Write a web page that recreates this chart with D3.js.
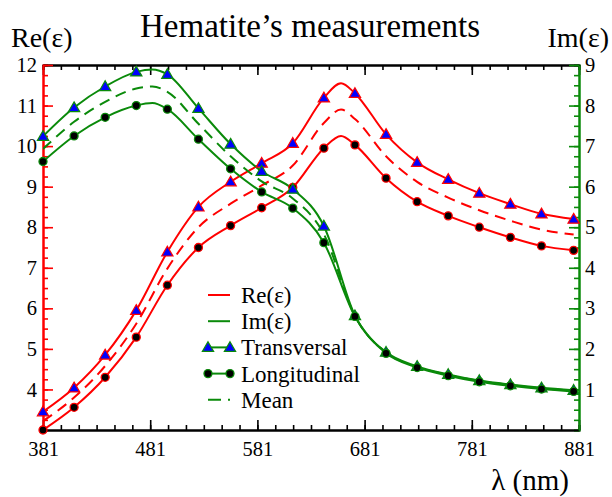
<!DOCTYPE html>
<html><head><meta charset="utf-8">
<script src="https://cdn.jsdelivr.net/npm/d3@7"></script>
<style>
body{margin:0;background:#fff;}
svg{display:block;}
text{font-family:"Liberation Serif","DejaVu Serif","Times New Roman",Times,serif;}
</style></head><body>
<svg id="c" width="612" height="497"></svg>
<script>
// ---- data ----
const markerWl = [381,410,439,468,497,526,556,585,614,643,672,701,730,759,788,817,846,876];
const reT    = [3.45,4.04,4.85,5.95,7.39,8.50,9.12,9.58,10.07,11.19,11.30,10.29,9.60,9.18,8.84,8.57,8.33,8.20];
const reL    = [3.00,3.56,4.30,5.29,6.57,7.50,8.04,8.48,8.98,9.95,10.03,9.21,8.63,8.28,8.00,7.75,7.54,7.43];
const reMean = [3.22,3.80,4.58,5.62,6.98,8.00,8.58,9.03,9.52,10.57,10.67,9.75,9.12,8.73,8.42,8.16,7.94,7.82];
const imT    = [7.24,7.95,8.47,8.83,8.77,7.93,7.05,6.38,5.94,5.03,2.82,1.92,1.57,1.37,1.22,1.12,1.04,0.98];
const imL    = [6.62,7.25,7.71,8.00,7.91,7.17,6.44,5.87,5.47,4.62,2.80,1.89,1.54,1.34,1.19,1.09,1.01,0.95];
const imMean = [6.93,7.60,8.09,8.42,8.34,7.55,6.75,6.13,5.71,4.83,2.81,1.91,1.56,1.36,1.21,1.11,1.03,0.97];
// peak samples between markers
const rePeakWl = 659, rePeak = {T:11.55, L:10.25, M:10.90};
const imPeakWl = 483, imPeak = {T:8.89, L:8.06, M:8.47};
// ticks
const xTicks = [381,481,581,681,781,881];
const reTicks = [4,5,6,7,8,9,10,11,12];
const imTicks = [1,2,3,4,5,6,7,8,9];
const legendLabels = ["Re(\u03b5)","Im(\u03b5)","Transversal","Longitudinal","Mean"];

// ---- layout ----
const FONT = "'Liberation Serif','DejaVu Serif','Times New Roman',Times,serif";
const RED = "#ff0000", GREEN = "#0a8a0a", BLUE = "#0000ff";
const L = 43, R = 579, T = 65, B = 430;
const svg = d3.select("#c");
const x = d3.scaleLinear().domain([381,881]).range([L,R]);
const yRe = d3.scaleLinear().domain([3,12]).range([B,T]);
const yIm = d3.scaleLinear().domain([0,9]).range([B,T]);

svg.append("defs").append("clipPath").attr("id","clip")
  .append("rect").attr("x",L).attr("y",T).attr("width",R-L).attr("height",B-T);

function series(vals, peakWl, peakVal){
  const pts = markerWl.map((w,i)=>[w, vals[i]]);
  pts.push([peakWl, peakVal]);
  pts.sort((a,b)=>a[0]-b[0]);
  return pts;
}

// ---- axes ----
function styleAxis(g, color){
  g.attr("font-family", FONT);
  g.select(".domain").attr("stroke", color).attr("stroke-width", 2);
  g.selectAll(".tick line").attr("stroke", color).attr("stroke-width", 1.6);
  g.selectAll("text").attr("fill","#000").attr("font-size",20.5).style("font-family", FONT);
}
const xMinor = d3.range(0,31).map(i=>381+i*100/6);
const reMinor = d3.range(3,12.001,0.25);
const imMinor = d3.range(0,9.001,0.25);

svg.append("g").attr("transform",`translate(0,${B})`)
  .call(d3.axisBottom(x).tickValues(xMinor).tickSize(-5).tickFormat(""))
  .call(g=>styleAxis(g,"#000"));
svg.append("g").attr("transform",`translate(0,${T})`)
  .call(d3.axisTop(x).tickValues(xMinor).tickSize(-5).tickFormat(""))
  .call(g=>styleAxis(g,"#000"));
svg.append("g").attr("transform",`translate(${L},0)`)
  .call(d3.axisLeft(yRe).tickValues(reMinor).tickSize(-5).tickFormat(""))
  .call(g=>styleAxis(g,RED));
svg.append("g").attr("transform",`translate(${R},0)`)
  .call(d3.axisRight(yIm).tickValues(imMinor).tickSize(-5).tickFormat(""))
  .call(g=>styleAxis(g,GREEN));
svg.append("g").attr("transform",`translate(0,${B})`)
  .call(d3.axisBottom(x).tickValues(xTicks).tickSizeInner(-10).tickSizeOuter(0).tickPadding(11).tickFormat(d3.format("d")))
  .call(g=>styleAxis(g,"#000"));
svg.append("g").attr("transform",`translate(0,${T})`)
  .call(d3.axisTop(x).tickValues(xTicks).tickSizeInner(-10).tickSizeOuter(0).tickFormat(""))
  .call(g=>styleAxis(g,"#000"));
svg.append("g").attr("transform",`translate(${L},0)`)
  .call(d3.axisLeft(yRe).tickValues(reTicks).tickSizeInner(-10).tickSizeOuter(0).tickPadding(6).tickFormat(d3.format("d")))
  .call(g=>styleAxis(g,RED));
svg.append("g").attr("transform",`translate(${R},0)`)
  .call(d3.axisRight(yIm).tickValues(imTicks).tickSizeInner(-10).tickSizeOuter(0).tickPadding(6).tickFormat(d3.format("d")))
  .call(g=>styleAxis(g,GREEN));

// ---- curves ----
const plot = svg.append("g").attr("clip-path","url(#clip)");
function drawLine(pts, yScale, color, dashed){
  const line = d3.line().x(d=>x(d[0])).y(d=>yScale(d[1])).curve(d3.curveMonotoneX);
  plot.append("path").datum(pts).attr("d",line).attr("fill","none")
    .attr("stroke",color).attr("stroke-width",2)
    .attr("stroke-dasharray", dashed ? "11,7" : null);
}
const tri = d3.symbol().type(d3.symbolTriangle).size(55);
function drawMarkers(vals, yScale, color, kind){
  const g = svg.append("g");
  markerWl.forEach((w,i)=>{
    const cx = x(w), cy = yScale(vals[i]);
    if (cy > B + 2 || cy < T - 2) return;
    if (kind === "T"){
      g.append("path").attr("d",tri).attr("transform",`translate(${cx},${cy+0.8})`)
        .attr("fill",BLUE).attr("stroke",color).attr("stroke-width",1.2);
    } else {
      g.append("circle").attr("cx",cx).attr("cy",cy).attr("r",4)
        .attr("fill","#000").attr("stroke",color).attr("stroke-width",1.3);
    }
  });
}
drawLine(series(reMean, rePeakWl, rePeak.M), yRe, RED, true);
drawLine(series(reT, rePeakWl, rePeak.T), yRe, RED, false);
drawLine(series(reL, rePeakWl, rePeak.L), yRe, RED, false);
drawLine(series(imMean, imPeakWl, imPeak.M), yIm, GREEN, true);
drawLine(series(imT, imPeakWl, imPeak.T), yIm, GREEN, false);
drawLine(series(imL, imPeakWl, imPeak.L), yIm, GREEN, false);
drawMarkers(reT, yRe, RED, "T");
drawMarkers(reL, yRe, RED, "L");
drawMarkers(imT, yIm, GREEN, "T");
drawMarkers(imL, yIm, GREEN, "L");

// ---- legend ----
const lg = svg.append("g");
const lx0 = 208, lx1 = 230, ly0 = 295, ldy = 26.2;
legendLabels.forEach((lab,i)=>{
  const yy = ly0 + i*ldy;
  const color = i===0 ? RED : GREEN;
  lg.append("line").attr("x1",lx0).attr("x2",lx1).attr("y1",yy).attr("y2",yy)
    .attr("stroke",color).attr("stroke-width",2)
    .attr("stroke-dasharray", i===4 ? "13,7" : null);
  if (i===2){
    [lx0,lx1].forEach(cx=>lg.append("path").attr("d",tri).attr("transform",`translate(${cx},${yy+0.8})`)
      .attr("fill",BLUE).attr("stroke",GREEN).attr("stroke-width",1.2));
  }
  if (i===3){
    [lx0,lx1].forEach(cx=>lg.append("circle").attr("cx",cx).attr("cy",yy).attr("r",4)
      .attr("fill","#000").attr("stroke",GREEN).attr("stroke-width",1.3));
  }
  lg.append("text").attr("x",241).attr("y",yy+8).attr("font-size",23)
    .style("font-family",FONT).text(lab);
});

// ---- titles ----
function label(xx, yy, anchor, size, txt){
  svg.append("text").attr("x",xx).attr("y",yy).attr("text-anchor",anchor)
    .attr("font-size",size).style("font-family",FONT).text(txt);
}
label(310, 37, "middle", 33, "Hematite\u2019s measurements");
label(11, 47, "start", 28, "Re(\u03b5)");
label(609, 47, "end", 28, "Im(\u03b5)");
label(569, 490, "end", 29, "\u03bb (nm)");
</script>
</body></html>
